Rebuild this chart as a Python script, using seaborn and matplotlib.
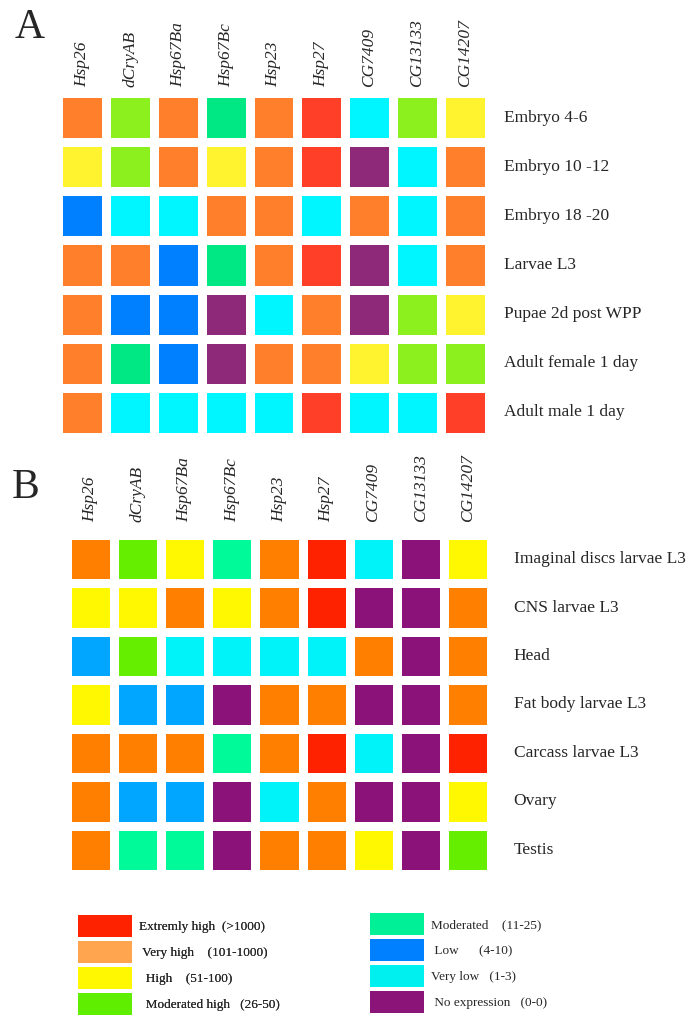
import numpy as np
import pandas as pd
import matplotlib
matplotlib.use("Agg")
import matplotlib.pyplot as plt
from matplotlib.colors import ListedColormap
from matplotlib.patches import Patch, Rectangle
from matplotlib.legend_handler import HandlerPatch
import seaborn as sns

# ---------------- data ----------------
genes = ["Hsp26", "dCryAB", "Hsp67Ba", "Hsp67Bc", "Hsp23", "Hsp27",
         "CG7409", "CG13133", "CG14207"]

stages_a = ["Embryo 4-6", "Embryo 10 -12", "Embryo 18 -20", "Larvae L3",
            "Pupae 2d post WPP", "Adult female 1 day", "Adult male 1 day"]

tissues_b = ["Imaginal discs larvae L3", "CNS larvae L3", "Head",
             "Fat body larvae L3", "Carcass larvae L3", "Ovary", "Testis"]

# expression class codes:
# 0 No expression, 1 Very low, 2 Low, 3 Moderated, 4 Moderated high,
# 5 High, 6 Very high, 7 Extremly high
levels_a = [
    [6, 4, 6, 3, 6, 7, 1, 4, 5],
    [5, 4, 6, 5, 6, 7, 0, 1, 6],
    [2, 1, 1, 6, 6, 1, 6, 1, 6],
    [6, 6, 2, 3, 6, 7, 0, 1, 6],
    [6, 2, 2, 0, 1, 6, 0, 4, 5],
    [6, 3, 2, 0, 6, 6, 5, 4, 4],
    [6, 1, 1, 1, 1, 7, 1, 1, 7],
]

levels_b = [
    [6, 4, 5, 3, 6, 7, 1, 0, 5],
    [5, 5, 6, 5, 6, 7, 0, 0, 6],
    [2, 4, 1, 1, 1, 1, 6, 0, 6],
    [5, 2, 2, 0, 6, 6, 0, 0, 6],
    [6, 6, 6, 3, 6, 7, 1, 0, 7],
    [6, 2, 2, 0, 1, 6, 0, 0, 5],
    [6, 3, 3, 0, 6, 6, 5, 0, 4],
]

legend_left = ["Extremly high  (>1000)", " Very high    (101-1000)",
               "  High    (51-100)", "  Moderated high   (26-50)"]
legend_left_codes = [7, 6, 5, 4]
legend_right = ["Moderated    (11-25)", " Low      (4-10)",
                "Very low   (1-3)", " No expression   (0-0)"]
legend_right_codes = [3, 2, 1, 0]

# ---------------- styles ----------------
pal_a = ["#8E2878", "#00F6FF", "#0080FF", "#00E884", "#8CF01E",
         "#FFF22E", "#FF7F2A", "#FF3F28"]
pal_b = ["#8B1278", "#00F3F8", "#00A6FF", "#00FA9A", "#66EE00",
         "#FFF800", "#FF7F00", "#FF2200"]
pal_legend = ["#8A1478", "#00F0F0", "#0080FF", "#00F098", "#60EE00",
              "#FFF800", "#FFA550", "#FF2200"]

sns.set_style("white")
plt.rcParams["font.family"] = ["Liberation Serif", "DejaVu Serif"]

W, H = 694, 1027
fig = plt.figure(figsize=(W / 100, H / 100), dpi=100)


def ax_px(x0, y0, x1, y1):
    return fig.add_axes([x0 / W, 1 - y1 / H, (x1 - x0) / W, (y1 - y0) / H])


def panel(ax, levels, rows, pal, top_pad, right_pad):
    df = pd.DataFrame(levels, index=rows, columns=genes)
    sns.heatmap(df, ax=ax, cmap=ListedColormap(pal), vmin=-0.5, vmax=7.5,
                cbar=False, linewidths=5.3, linecolor="white",
                xticklabels=True, yticklabels=True)
    ax.xaxis.tick_top()
    ax.yaxis.tick_right()
    ax.tick_params(axis="x", length=0, pad=top_pad, labelsize=12.5)
    ax.tick_params(axis="y", length=0, pad=right_pad, labelsize=12.5)
    for t in ax.get_xticklabels():
        t.set_rotation(90)
        t.set_fontstyle("italic")
        t.set_va("bottom")
        t.set_ha("center")
    for t in ax.get_yticklabels():
        t.set_rotation(0)
        t.set_ha("left")
        t.set_va("center")
    ax.set_xlabel("")
    ax.set_ylabel("")
    for s in ax.spines.values():
        s.set_visible(False)


axA = ax_px(58.5, 93, 488.5, 437)
panel(axA, levels_a, stages_a, pal_a, top_pad=4.5, right_pad=11)

axB = ax_px(66.5, 535, 491.5, 874)
panel(axB, levels_b, tissues_b, pal_b, top_pad=9.5, right_pad=16)

fig.text(15 / W, 1 - 38 / H, "A", fontsize=30, va="baseline", ha="left")
fig.text(12 / W, 1 - 498 / H, "B", fontsize=30, va="baseline", ha="left")


# ---------------- legend ----------------
def tall_patch(legend, orig_handle, xdescent, ydescent, width, height, fontsize):
    gap = 1.5  # points, leaves white space between stacked patches
    return Rectangle((-xdescent, -ydescent + gap), width, height - 2 * gap)


def make_legend(labels, codes, x, y):
    handles = [Patch(facecolor=pal_legend[c], edgecolor="none") for c in codes]
    leg = fig.legend(handles, labels, loc="upper left",
                     bbox_to_anchor=(x / W, 1 - y / H),
                     bbox_transform=fig.transFigure, frameon=False,
                     fontsize=9.5, handlelength=4.1, handleheight=2.654,
                     labelspacing=0.0, handletextpad=0.5, borderpad=0,
                     borderaxespad=0,
                     handler_map={Patch: HandlerPatch(patch_func=tall_patch)})
    return leg


leg1 = make_legend(legend_left, legend_left_codes, 78, 913)
fig.add_artist(leg1)
make_legend(legend_right, legend_right_codes, 370, 911)

fig.savefig("out.png", dpi=100, facecolor="white")
